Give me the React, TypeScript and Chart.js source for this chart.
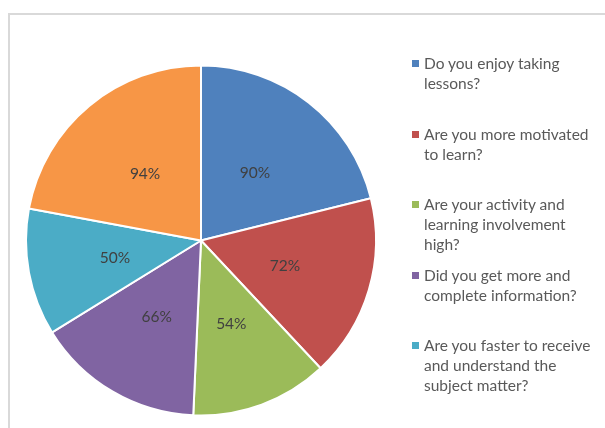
import React, { useEffect, useRef } from "react";
import { Chart, registerables } from "chart.js";

Chart.register(...registerables);

const categories: string[][] = [
  ["Do you enjoy taking", "lessons?"],
  ["Are you more motivated", "to learn?"],
  ["Are your activity and", "learning involvement", "high?"],
  ["Did you get more and", "complete information?"],
  ["Are you faster to receive", "and understand the", "subject matter?"],
  [""],
];
const values: number[] = [90, 72, 54, 66, 50, 94];
const colors: string[] = ["#4F81BD", "#C0504D", "#9BBB59", "#8064A2", "#4BACC6", "#F79646"];

const FONT = "Lato, 'Liberation Sans', sans-serif";

const sliceLabels = {
  id: "sliceLabels",
  afterDatasetsDraw(chart: any) {
    const ctx = chart.ctx;
    const meta = chart.getDatasetMeta(0);
    ctx.save();
    ctx.font = `15.5px ${FONT}`;
    ctx.fillStyle = "#404040";
    ctx.textAlign = "center";
    ctx.textBaseline = "middle";
    meta.data.forEach((arc: any, i: number) => {
      const p = arc.tooltipPosition(false);
      ctx.fillText(`${values[i]}%`, p.x, p.y + 1);
    });
    ctx.restore();
  },
};

export default function App() {
  const ref = useRef<HTMLCanvasElement>(null);
  useEffect(() => {
    if (!ref.current) return;
    const chart = new Chart(ref.current, {
      type: "pie",
      data: {
        labels: categories.map((c) => c.join(" ")),
        datasets: [
          {
            data: values,
            backgroundColor: colors,
            borderColor: "#ffffff",
            borderWidth: 2,
          },
        ],
      },
      options: {
        animation: false,
        responsive: false,
        maintainAspectRatio: false,
        layout: { padding: { left: 25, right: 228, top: 64, bottom: 11 } },
        plugins: {
          legend: { display: false },
          tooltip: { enabled: false },
        },
      },
      plugins: [sliceLabels],
    });
    return () => chart.destroy();
  }, []);

  const legendItems = categories
    .map((lines, i) => ({ lines, color: colors[i] }))
    .filter((it) => it.lines.join("").length > 0);

  return (
    <div style={{ position: "fixed", left: 0, top: 0, width: 605, height: 428, background: "#fff", overflow: "hidden" }}>
      <div
        style={{
          position: "absolute",
          left: 8,
          top: 13,
          width: 620,
          height: 440,
          borderLeft: "2px solid #d9d9d9",
          borderTop: "2px solid #d9d9d9",
        }}
      />
      <canvas ref={ref} width={605} height={428} style={{ position: "absolute", left: 0, top: 0, width: 605, height: 428 }} />
      {legendItems.map((it, i) => (
        <div
          key={i}
          style={{
            position: "absolute",
            left: 412,
            top: 53 + i * 70.5,
            fontFamily: FONT,
            fontSize: 15.5,
            lineHeight: "20px",
            color: "#595959",
            whiteSpace: "nowrap",
          }}
        >
          <span
            style={{
              position: "absolute",
              left: 0,
              top: 7,
              width: 7,
              height: 7,
              background: it.color,
            }}
          />
          <div style={{ marginLeft: 12 }}>
            {it.lines.map((l, j) => (
              <div key={j}>{l}</div>
            ))}
          </div>
        </div>
      ))}
    </div>
  );
}
